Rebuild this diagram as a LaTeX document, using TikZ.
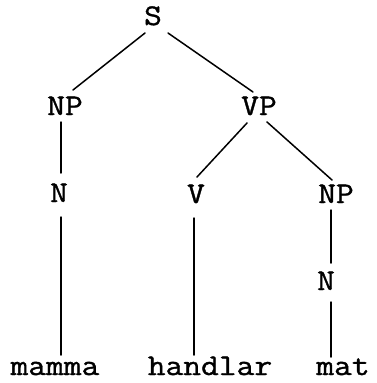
\documentclass[tikz,border=0pt]{standalone}
\usepackage{fontspec}
\newfontfamily\treefont[FakeStretch=1.15,FakeBold=1.2]{Latin Modern Mono}
\begin{document}
\begin{tikzpicture}[x=1pt,y=-1pt,
  lbl/.style={font=\treefont\fontsize{30}{30}\selectfont, inner sep=0pt, anchor=base},
  edge/.style={line width=1.5pt, line cap=round}]
\useasboundingbox (0,0) rectangle (377,383);
\node[lbl] (S)   at (153,25)  {S};
\node[lbl] (NPl) at (65,115)  {NP};
\node[lbl] (VP)  at (259,115) {VP};
\node[lbl] (Nl)  at (59,202)  {N};
\node[lbl] (V)   at (196,203) {V};
\node[lbl] (NPr) at (336,203) {NP};
\node[lbl] (Nr)  at (326,290) {N};
\node[lbl] (w1)  at (55,375)  {mamma};
\node[lbl] (w2)  at (210,375) {handlar};
\node[lbl] (w3)  at (343,375) {mat};
\draw[edge] ([shift={(-8,8)}]S.base) -- ([shift={(8,-25)}]NPl.base);
\draw[edge] ([shift={(15,8)}]S.base) -- ([shift={(-6,-23)}]VP.base);
\draw[edge] ([shift={(-4,7)}]NPl.base) -- ([shift={(2,-29)}]Nl.base);
\draw[edge] ([shift={(-12,8)}]VP.base) -- ([shift={(1,-26)}]V.base);
\draw[edge] ([shift={(8,7)}]VP.base) -- ([shift={(-4,-23)}]NPr.base);
\draw[edge] ([shift={(2,15)}]Nl.base) -- ([shift={(6,-20)}]w1.base);
\draw[edge] ([shift={(-2,15)}]V.base) -- ([shift={(-16,-20)}]w2.base);
\draw[edge] ([shift={(-5,7)}]NPr.base) -- ([shift={(5,-27)}]Nr.base);
\draw[edge] ([shift={(5,12)}]Nr.base) -- ([shift={(-12,-18)}]w3.base);
\end{tikzpicture}
\end{document}
